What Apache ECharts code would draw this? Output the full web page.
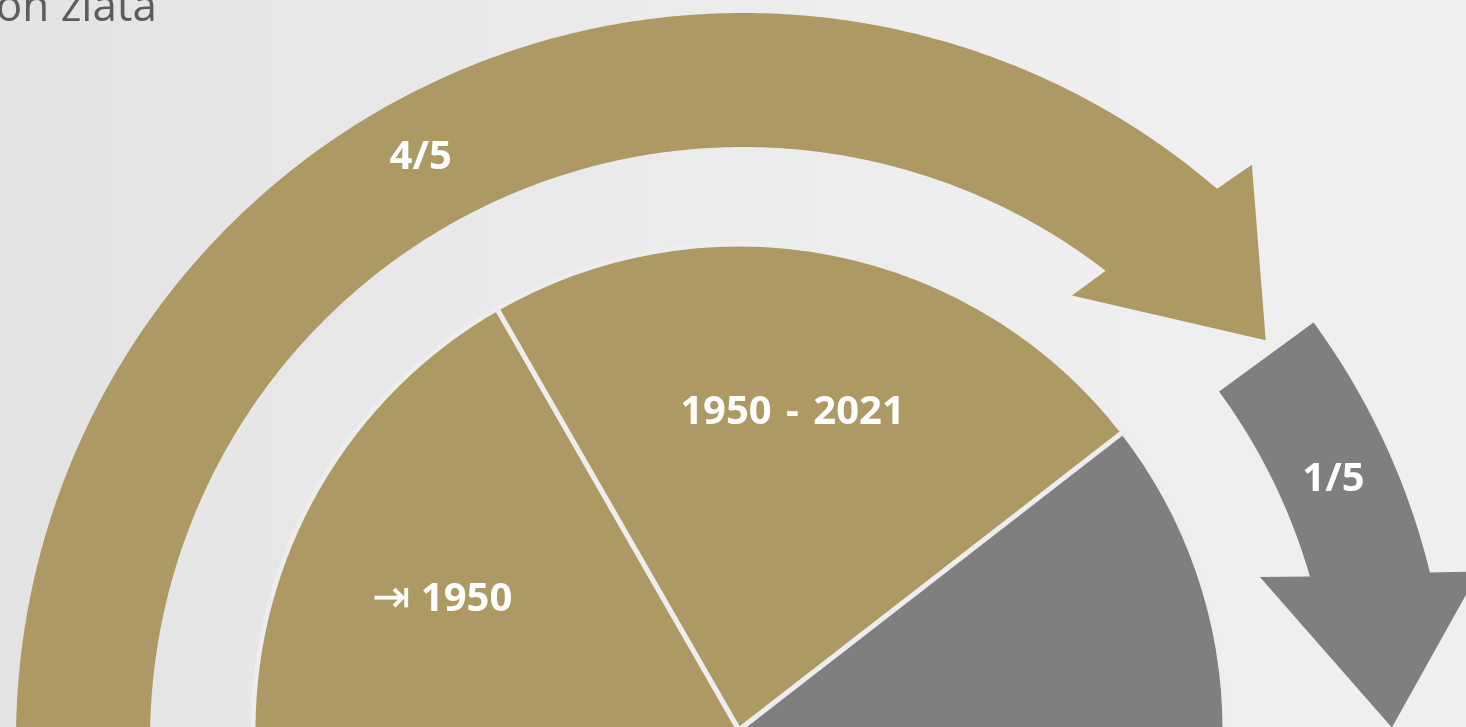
<!DOCTYPE html>
<html>
<head>
<meta charset="utf-8">
<script src="https://cdn.jsdelivr.net/npm/echarts@6/dist/echarts.min.js"></script>
<style>
html,body{margin:0;padding:0;width:1466px;height:727px;overflow:hidden;}
#chart{width:1466px;height:727px;background:linear-gradient(90deg,#e3e3e3 0%,#e9e9e9 35%,#eeeeee 65%,#efefef 100%);}
</style>
</head>
<body>
<div id="chart"></div>
<script>
// ---- data ----
const categories = ['{arr|⇥} 1950', '1950 \u200A-\u200A 2021', 'zásoby'];
const shares = [33.4, 45.6, 21];
const arrowLabels = ['4/5', '1/5'];
const arrowShares = [4 / 5, 1 / 5];
const titleText = 'on zlata';

// ---- styles ----
const GOLD = '#ad9963';
const GREY = '#7f7f7f';
const sliceColors = [GOLD, GOLD, GREY];
const labelPads = [[68, 26, 0, 0], [8, 20, 0, 0], [0, 0, 0, 0]];
const arrowColors = [GOLD, GREY];
const arrowGeom = [
  {ro: 727, ri: 593, oEnd: 11.9, hoA: 11.1, hro: 768, tipR: 658, hri: 553, hiA: 16.1, iEnd: 14.9, tipOff: 1.4, startOff: 0, lblR: 669, lblF: 0.425},
  {ro: 707, ri: 590, oEnd: 12.6, hoA: 11.8, hro: 755, tipR: 649, hri: 542, hiA: 16.4, iEnd: 15.0, tipOff: 1.1, startOff: 0.2, lblR: 647, lblF: 0.333}
];

// arrows span the half circle (180 deg) proportionally to their share
const arrowData = [];
let acc = 180;
arrowShares.forEach(function (s) {
  const next = acc - s * 180;
  arrowData.push([acc, next]);
  acc = next;
});

const pieData = categories.map(function (c, i) {
  return {name: c, value: shares[i], itemStyle: {color: sliceColors[i]}};
});
const labelData = categories.map(function (c, i) {
  return {name: c, value: shares[i], label: {show: i < 2, padding: labelPads[i]}};
});

function renderArrow(params, api) {
  const i = params.dataIndex;
  const g = arrowGeom[i];
  const a0 = api.value(0) + g.startOff;
  const a1 = api.value(1);
  const T = a1 + g.tipOff;
  const P = function (r, a) { return api.coord([r, a]); };
  const pts = [];
  const outerEnd = T + g.oEnd;
  let steps = Math.ceil(Math.abs(a0 - outerEnd) * 2);
  for (let k = 0; k <= steps; k++) pts.push(P(g.ro, a0 + (outerEnd - a0) * k / steps));
  pts.push(P(g.hro, T + g.hoA));
  pts.push(P(g.tipR, T));
  pts.push(P(g.hri, T + g.hiA));
  const innerEnd = T + g.iEnd;
  steps = Math.ceil(Math.abs(a0 - innerEnd) * 2);
  for (let k = 0; k <= steps; k++) pts.push(P(g.ri, innerEnd + (a0 - innerEnd) * k / steps));
  const lp = P(g.lblR, a0 - (a0 - a1) * g.lblF);
  return {
    type: 'group',
    children: [
      {type: 'polygon', shape: {points: pts}, style: {fill: arrowColors[i]}},
      {type: 'text', x: lp[0], y: lp[1] + 4, style: {
        text: arrowLabels[i], fill: '#ffffff', fontSize: 40, fontWeight: 'bold',
        fontFamily: '"Open Sans", sans-serif', align: 'center', verticalAlign: 'middle'}}
    ]
  };
}

const chart = echarts.init(document.getElementById('chart'), null, {renderer: 'canvas'});
chart.setOption({
  backgroundColor: 'transparent',
  animation: false,
  polar: {center: [743, 740], radius: 800},
  radiusAxis: {type: 'value', min: 0, max: 800, show: false},
  angleAxis: {type: 'value', min: 0, max: 360, startAngle: 0, clockwise: false, show: false},
  graphic: [{
    type: 'text', x: 157, y: 30,
    style: {text: titleText, align: 'right', verticalAlign: 'bottom',
      fontSize: 44, fontFamily: '"Open Sans", sans-serif', fill: '#5c5c5c'}
  }],
  series: [
    {
      type: 'custom', coordinateSystem: 'polar', clip: false, silent: true,
      renderItem: renderArrow, data: arrowData
    },
    {
      type: 'pie', center: [739, 730], radius: [0, 486],
      startAngle: 180, endAngle: 360, clockwise: true, silent: true,
      itemStyle: {borderColor: '#ededed', borderWidth: 5},
      label: {show: false}, labelLine: {show: false},
      data: pieData
    },
    {
      type: 'pie', center: [739, 730], radius: [164, 486],
      startAngle: 180, endAngle: 360, clockwise: true, silent: true,
      itemStyle: {color: 'rgba(0,0,0,0)'},
      label: {
        position: 'inside', color: '#ffffff', fontSize: 40, fontWeight: 'bold',
        fontFamily: '"Open Sans", sans-serif',
        rich: {arr: {fontSize: 46, fontWeight: 'normal', fontFamily: '"DejaVu Sans", sans-serif', color: '#ffffff', verticalAlign: 'middle'}}
      },
      labelLine: {show: false},
      emphasis: {disabled: true},
      data: labelData
    }
  ]
});
</script>
</body>
</html>
